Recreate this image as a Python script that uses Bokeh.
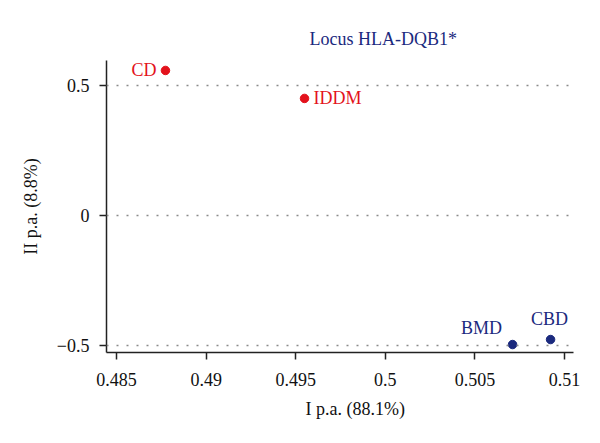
from bokeh.plotting import figure
from bokeh.models import FixedTicker, Span, Title
from bokeh.core.properties import value
from bokeh.embed import file_html
from bokeh.resources import INLINE

# principal axes coordinates
names = ["CD", "IDDM", "BMD", "CBD"]
pa1 = [0.48773, 0.49549, 0.50710, 0.50922]
pa2 = [0.5575, 0.450, -0.4962, -0.477]
groups = ["red", "red", "blue", "blue"]

x_ticks = [0.485, 0.49, 0.495, 0.5, 0.505, 0.51]
x_tick_labels = ["0.485", "0.49", "0.495", "0.5", "0.505", "0.51"]
y_ticks = [-0.5, 0, 0.5]
y_tick_labels = ["\u22120.5", "0", "0.5"]

RED = "#e3121c"
BLUE = "#1b2a7e"
FONT = "Liberation Serif"
FS = "18px"
colors = {"red": RED, "blue": BLUE}
# label placement (align, x_offset, y_offset)
label_pos = {
    "CD": ("right", -9, 0),
    "IDDM": ("left", 9, 0),
    "BMD": ("center", -31, -17),
    "CBD": ("center", -1, -21),
}

p = figure(width=584, height=427, output_backend="svg", toolbar_location=None,
           x_range=(0.48444, 0.5105), y_range=(-0.5268, 0.5958),
           min_border_left=106, min_border_right=11, min_border_top=60,
           min_border_bottom=74)
p.outline_line_color = None
p.xgrid.visible = False
p.ygrid.visible = False
p.background_fill_color = "white"

for t in y_ticks:
    p.add_layout(Span(location=t, dimension="width", line_color="#8a8a8a",
                      line_width=1.5, line_dash="2 8"))

for i, name in enumerate(names):
    c = colors[groups[i]]
    p.scatter([pa1[i]], [pa2[i]], size=8.5, color=c)
    align, dx, dy = label_pos[name]
    p.text([pa1[i]], [pa2[i]], text=[name], text_color=c, text_align=align,
           text_baseline="middle", x_offset=dx, y_offset=dy,
           text_font=value(FONT), text_font_size=FS)

for ax, ticks, labels in ((p.xaxis[0], x_ticks, x_tick_labels),
                          (p.yaxis[0], y_ticks, y_tick_labels)):
    ax.ticker = FixedTicker(ticks=ticks)
    ax.major_label_overrides = dict(zip(ticks, labels))
    ax.minor_tick_line_color = None
    ax.major_tick_in = 0
    ax.major_tick_out = 7
    ax.axis_line_color = "#222222"
    ax.axis_line_width = 1.5
    ax.major_tick_line_color = "#222222"
    ax.major_tick_line_width = 1.5
    ax.major_label_text_font = FONT
    ax.major_label_text_font_size = FS
    ax.major_label_text_color = "#111111"
    ax.axis_label_text_font = FONT
    ax.axis_label_text_font_size = FS
    ax.axis_label_text_font_style = "normal"
    ax.axis_label_text_color = "#111111"

p.xaxis.major_label_standoff = 13
p.yaxis.major_label_standoff = 10
p.yaxis.axis_label = "II p.a. (8.8%)"
p.yaxis.axis_label_standoff = 13

p.add_layout(Title(text="I p.a. (88.1%)", align="left", offset=199,
                   text_font=FONT, text_font_size=FS,
                   text_font_style="normal", text_color="#111111",
                   standoff=17), "below")
p.add_layout(Title(text="Locus HLA-DQB1*", align="left", offset=203,
                   text_font=FONT, text_font_size=FS,
                   text_font_style="normal", text_color=BLUE,
                   standoff=24), "above")

open("out.html", "w").write(file_html(p, INLINE))
